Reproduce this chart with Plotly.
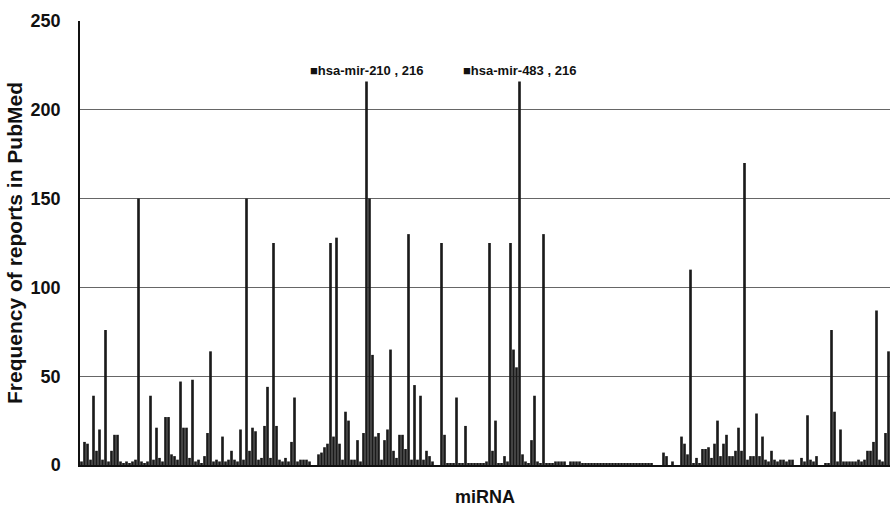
import plotly.graph_objects as go

# Frequency of reports in PubMed per miRNA (left to right)
counts = [
    2, 13, 12, 3, 39, 8, 20, 3, 76, 2,
    8, 17, 17, 2, 1, 2, 1, 2, 3, 150,
    2, 1, 2, 39, 3, 21, 4, 2, 27, 27,
    6, 5, 3, 47, 21, 21, 4, 48, 2, 3,
    1, 5, 18, 64, 2, 3, 2, 16, 2, 3,
    8, 3, 2, 20, 3, 150, 8, 21, 19, 3,
    4, 22, 44, 4, 125, 22, 3, 2, 4, 2,
    13, 38, 2, 3, 3, 3, 2, 0, 0, 6,
    7, 10, 12, 125, 16, 128, 12, 3, 30, 25,
    3, 3, 14, 2, 18, 216, 150, 62, 16, 18,
    3, 14, 20, 65, 8, 4, 17, 17, 9, 130,
    3, 45, 3, 39, 3, 8, 5, 2, 0, 0,
    125, 17, 1, 1, 1, 38, 1, 1, 22, 1,
    1, 1, 1, 1, 1, 2, 125, 8, 25, 1,
    1, 5, 2, 125, 65, 55, 216, 6, 2, 1,
    14, 39, 2, 1, 130, 1, 1, 1, 2, 2,
    2, 2, 0, 2, 2, 2, 2, 1, 1, 1,
    1, 1, 1, 1, 1, 1, 1, 1, 1, 1,
    1, 1, 1, 1, 1, 1, 1, 1, 1, 1,
    1, 0, 0, 0, 7, 5, 0, 2, 0, 0,
    16, 12, 6, 110, 1, 4, 1, 9, 9, 10,
    4, 12, 25, 5, 12, 17, 5, 5, 8, 21,
    8, 170, 3, 5, 5, 29, 5, 16, 3, 2,
    8, 3, 2, 3, 3, 2, 3, 3, 0, 0,
    4, 2, 28, 3, 2, 5, 0, 0, 1, 1,
    76, 30, 2, 20, 2, 2, 2, 2, 2, 3,
    2, 3, 8, 8, 13, 87, 3, 2, 18, 64,
]
mirnas = [f"miR-{i + 1}" for i in range(len(counts))]

# Labelled peaks
peak_names = ["hsa-mir-210", "hsa-mir-483"]
peak_values = [216, 216]
peak_index = [95, 146]

y_ticks = [0, 50, 100, 150, 200, 250]

fig = go.Figure()
fig.add_trace(go.Bar(
    x=mirnas, y=counts,
    marker=dict(color="#1a1a1a", line=dict(width=0)),
    showlegend=False,
))

for name, val, idx in zip(peak_names, peak_values, peak_index):
    fig.add_annotation(
        x=mirnas[idx], y=val, text=f"<b>■{name} , {val}</b>",
        showarrow=False, yanchor="middle", yshift=11,
        font=dict(family="Liberation Sans", size=13, color="#111"),
    )

fig.update_layout(
    width=890, height=510,
    margin=dict(l=80, r=0, t=21, b=45, autoexpand=False),
    paper_bgcolor="white", plot_bgcolor="white",
    bargap=0.12,
    font=dict(family="Liberation Sans", color="#111"),
    xaxis=dict(
        showticklabels=False, ticks="", showgrid=False,
        range=[-0.5, len(counts) - 0.5],
        showline=True, linecolor="#111", linewidth=2,
        title=dict(text="<b>miRNA</b>", font=dict(size=18, family="Liberation Sans"), standoff=24),
    ),
    yaxis=dict(
        range=[0, 250], tickvals=y_ticks,
        showgrid=True, gridcolor="#666", gridwidth=1,
        showline=True, linecolor="#111", linewidth=1.5,
        ticks="", ticklabelstandoff=14,
        tickfont=dict(size=18, family="Liberation Sans", weight="bold"),
        zeroline=False,
        title=dict(text="<b>Frequency of reports in PubMed</b>",
                   font=dict(size=21, family="Liberation Sans"), standoff=2),
    ),
)

fig.write_html("out.html", post_script="document.body.style.margin='0';",
               config={"displayModeBar": False})
